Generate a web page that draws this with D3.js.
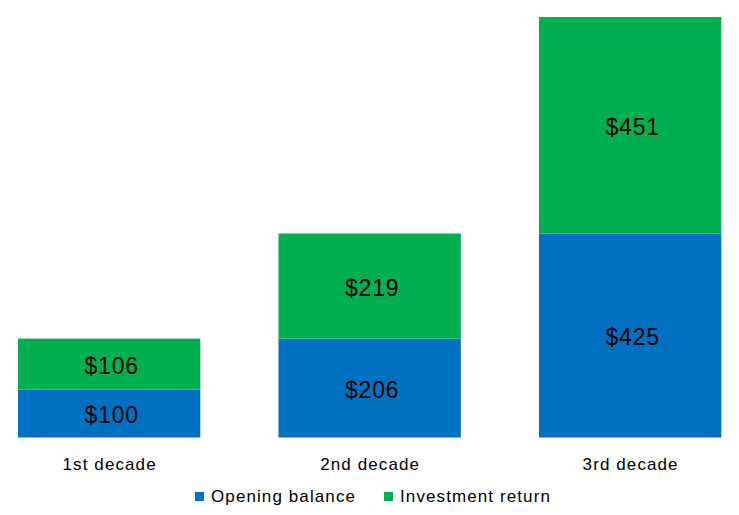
<!DOCTYPE html>
<html><head><meta charset="utf-8">
<script src="https://cdn.jsdelivr.net/npm/d3@7"></script>
<style>body{margin:0;background:#fff}svg{display:block}text{font-family:"Liberation Sans",Arial,sans-serif;fill:#000}</style>
</head><body><svg id="c" width="739" height="515"></svg>
<script>
const categories = ["1st decade","2nd decade","3rd decade"];
const openingBalance = [100,206,425];
const investmentReturn = [106,219,451];
const seriesNames = ["Opening balance","Investment return"];
const colors = ["#0070C0","#00B050"];

const svg = d3.select("#c");
const x = d3.scaleBand().domain(categories).range([-21.1,760.4]).paddingInner(0.3).paddingOuter(0.15);
const y = d3.scaleLinear().domain([0,876]).range([437.5,17]);

const rows = categories.map((c,i)=>({cat:c, ob:openingBalance[i], ir:investmentReturn[i]}));
const stack = d3.stack().keys(["ob","ir"])(rows);

stack.forEach((layer,li)=>{
  const g = svg.append("g");
  g.selectAll("rect").data(layer).join("rect")
    .attr("x",d=>x(d.data.cat)).attr("width",x.bandwidth())
    .attr("y",d=>y(d[1])).attr("height",d=>y(d[0])-y(d[1]))
    .attr("fill",colors[li]);
  g.selectAll("text").data(layer).join("text")
    .attr("x",d=>x(d.data.cat)+x.bandwidth()/2+2.5)
    .attr("y",d=>(y(d[0])+y(d[1]))/2+2)
    .attr("text-anchor","middle").attr("dominant-baseline","central")
    .style("font-size","23px").style("letter-spacing","0.8px")
    .text(d=>"$"+(d[1]-d[0]));
});

svg.append("g").selectAll("text").data(categories).join("text")
  .attr("x",d=>x(d)+x.bandwidth()/2+0.5).attr("y",464)
  .attr("text-anchor","middle").attr("dominant-baseline","central")
  .style("font-size","17px").style("letter-spacing","1.1px").text(d=>d);

const legX = [195,384];
const lg = svg.append("g");
seriesNames.forEach((n,i)=>{
  lg.append("rect").attr("x",legX[i]).attr("y",492).attr("width",9).attr("height",9).attr("fill",colors[i]);
  lg.append("text").attr("x",legX[i]+16).attr("y",496.5).attr("dominant-baseline","central")
    .style("font-size","17px").style("letter-spacing","1.1px").text(n);
});
</script></body></html>
